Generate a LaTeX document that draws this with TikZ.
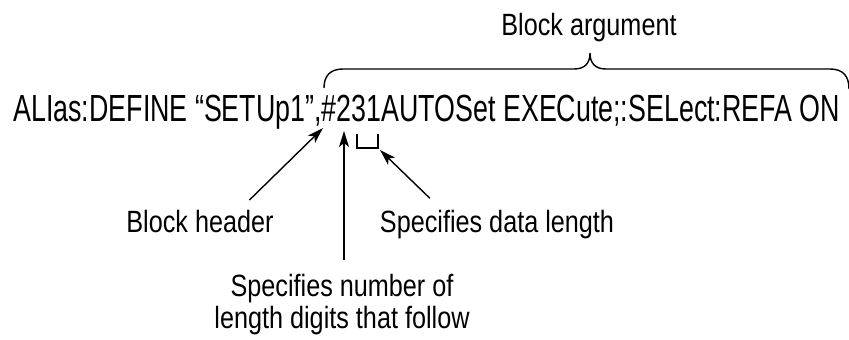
\documentclass[tikz,border=0pt]{standalone}
\usepackage{fontspec}
\setmainfont{Liberation Sans}[FakeStretch=0.82]
\newfontfamily\cmdfont{Liberation Sans}[FakeStretch=0.71]
\usetikzlibrary{arrows.meta}
\usetikzlibrary{positioning}

\begin{document}
\begin{tikzpicture}
  [x=0.02cm, y=-0.02cm,
   cmdtext/.style={inner sep=0pt, anchor=base west,
         font=\cmdfont\fontsize{21.5}{24}\selectfont},
   callout/.style={inner sep=1pt, outer sep=4.5pt, anchor=base,
         font=\fontsize{17.5}{18.2}\selectfont},
   >={Stealth[length=3.2mm, width=2mm, inset=0.8mm]}
  ]
 \useasboundingbox (0,0) rectangle (849,339);

 \path
   (13,121)  node (command)   [cmdtext]
             {ALIas:DEFINE “SETUp1”,\#231AUTOSet EXECute;:SELect:REFA ON}
   (589,35)  node (argument)  [callout] {Block argument}
   (200,232) node (header)    [callout] {Block header}
   (497,232) node (datalen)   [callout, outer sep=5.5pt] {Specifies data length}
   (342,328) node (numdigits) [callout, outer sep=6.7pt, align=center]
             {Specifies number of\\length digits that follow}
   ;
   % points in the command line that the arrows hit
   \coordinate (comma)  at (323,128);
   \coordinate (digit)  at (344,131);
   \coordinate (lenbr)  at (380,150);

   \begin{scope}[line width=0.8pt]
   % brace over the block argument
   \draw (324,88) .. controls (324,76) and (330,69) .. (343,69) -- (574,69)
         .. controls (585,69) and (590,63) .. (590,53)
         .. controls (590,63) and (595,69) .. (606,69) -- (830,69)
         .. controls (843,69) and (849,76) .. (849,89);
   % bracket under the length digits
   \draw (357,134) -- (357,148) -- (378,148) -- (378,134);
   \draw [->] (header.23) -- (comma);
   \draw [->] (numdigits.north -| digit) -- (digit);
   \draw [->] (datalen.159) -- (lenbr);
   \end{scope}

\end{tikzpicture}
\end{document}
